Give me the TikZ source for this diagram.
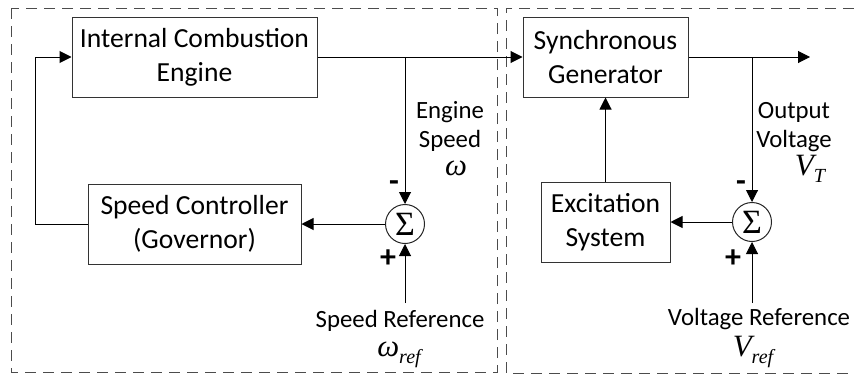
\documentclass[tikz,border=0pt]{standalone}
\usepackage{fontspec}
\setmainfont{Carlito}
\newfontfamily\symfont{Liberation Serif}
\usetikzlibrary{arrows.meta}

% italic symbol with a small lowered index
\newcommand{\sig}[2]{{\symfont\itshape\fontsize{15.5}{15.5}\selectfont #1\raisebox{-0.55ex}{\fontsize{10}{10}\selectfont #2}}}
\newcommand{\sumsign}{{\symfont\fontsize{17}{17}\selectfont Σ}}

\begin{document}
\begin{tikzpicture}[x=0.5pt, y=-0.5pt,
    block/.style={draw=black!80, line width=0.5pt, minimum height=40pt, align=center, inner sep=0pt,
        font=\fontsize{13.8}{17}\selectfont},
    sumnode/.style={draw=black!85, circle, minimum size=19.5pt, inner sep=0pt, line width=0.5pt},
    link/.style={line width=0.5pt, -{Triangle[length=6pt, width=6pt]}},
    region/.style={draw=black!70, line width=0.5pt, dash pattern=on 5.5pt off 3.5pt},
    lbl/.style={font=\fontsize{12.4}{14.5}\selectfont, align=center, inner sep=0pt},
    sgn/.style={font=\fontsize{16}{16}\selectfont\bfseries, inner sep=0pt}]
    \useasboundingbox (0,0) rectangle (854,375);

    % the two subsystems
    \draw[region] (11,8) rectangle (497,372);
    \draw[region] (854,8) -- (506,8) -- (506,373) -- (854,373);

    % blocks
    \node[block, minimum width=122.5pt] (ice) at (194.5,57) {Internal Combustion\\Engine};
    \node[block, minimum width=82.5pt] (gen) at (605.5,57) {Synchronous\\Generator};
    \node[block, minimum width=106.5pt] (gov) at (194.5,224) {Speed Controller\\(Governor)};
    \node[block, minimum width=64.5pt] (exc) at (605.5,222) {Excitation\\System};
    \node[sumnode] (sumw) at (405,224) {\sumsign};
    \node[sumnode] (sumv) at (752,222) {\sumsign};

    \coordinate (tapw) at (405,57);
    \coordinate (tapv) at (752,57);
    \coordinate (out) at (810,57);
    \coordinate (fb) at (35,57);
    \coordinate (refw) at (405,303);
    \coordinate (refv) at (752,303);

    % signals
    \draw[link] (ice.east) -- (gen.west);
    \draw[link] (gen.east) -- (out);
    \draw[link] (tapw) -- (sumw.north);
    \draw[link] (tapv) -- (sumv.north);
    \draw[link] (sumw.west) -- (gov.east);
    \draw[link] (sumv.west) -- (exc.east);
    \draw[link] (exc.north) -- (gen.south);
    \draw[link] (gov.west) -| (fb) -- (ice.west);
    \draw[link] (refw) -- (sumw.south);
    \draw[link] (refv) -- (sumv.south);

    % signs
    \node[sgn] (mw) at (394,186) {-};
    \node[sgn] (pw) at (388,259) {+};
    \node[sgn] (mv) at (741,186) {-};
    \node[sgn] (pv) at (733,259) {+};

    % labels
    \node[lbl, anchor=base] (spdlbl) at (450,147) {Engine\\Speed};
    \node[anchor=base, inner sep=0pt] (w) at (456,175) {\sig{ω}{}};
    \node[lbl, anchor=base] (outlbl) at (794,147) {Output\\Voltage};
    \node[anchor=base, inner sep=0pt] (vt) at (810,175) {\sig{V}{T}};
    \node[lbl, anchor=base] (wreflbl) at (400,327) {Speed Reference};
    \node[anchor=base, inner sep=0pt] (wref) at (399,356) {\sig{ω}{ref}};
    \node[lbl, anchor=base] (vreflbl) at (759,325) {Voltage Reference};
    \node[anchor=base, inner sep=0pt] (vref) at (753,356) {\sig{V}{ref}};
\end{tikzpicture}
\end{document}
